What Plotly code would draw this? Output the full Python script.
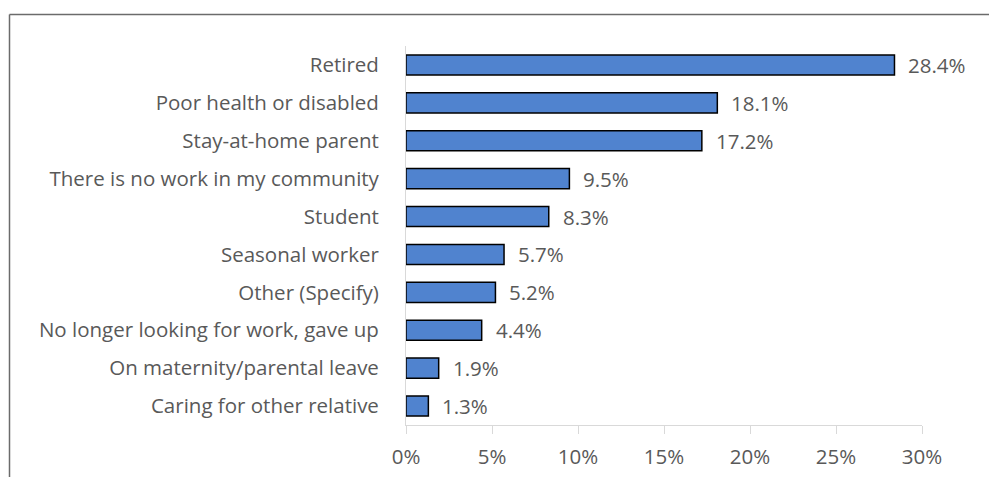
import plotly.graph_objects as go

categories = [
    "Retired",
    "Poor health or disabled",
    "Stay-at-home parent",
    "There is no work in my community",
    "Student",
    "Seasonal worker",
    "Other (Specify)",
    "No longer looking for work, gave up",
    "On maternity/parental leave",
    "Caring for other relative",
]
values = [28.4, 18.1, 17.2, 9.5, 8.3, 5.7, 5.2, 4.4, 1.9, 1.3]
x_ticks = [0, 5, 10, 15, 20, 25, 30]
x_tick_labels = [f"{t}%" for t in x_ticks]

W, H = 989, 477
ML, MR, MT, MB = 406, 67, 46, 52
font_family = "'Open Sans', sans-serif"
font_size = 20.5
text_color = "#595959"

fig = go.Figure(
    go.Bar(
        x=values,
        y=categories,
        orientation="h",
        width=0.53,
        marker=dict(color="#5083CF", line=dict(color="#000000", width=1.5)),
        hoverinfo="skip",
    )
)

# value labels to the right of each bar
for cat, v in zip(categories, values):
    fig.add_annotation(
        x=v, y=cat, xref="x", yref="y",
        text=f"{v:.1f}%", showarrow=False,
        xanchor="left", xshift=12,
        font=dict(family=font_family, size=font_size, color=text_color),
    )

# outer frame (left and top edges)
pw = W - ML - MR
ph = H - MT - MB
fx = (9.5 - ML) / pw
fy = 1 + (MT - 14.5) / ph
fig.add_shape(type="line", xref="paper", yref="paper",
              x0=fx, x1=fx, y0=fy, y1=-1, line=dict(color="#6b6b6b", width=1.5))
fig.add_shape(type="line", xref="paper", yref="paper",
              x0=fx, x1=2, y0=fy, y1=fy, line=dict(color="#6b6b6b", width=1.5))

fig.update_layout(
    width=W, height=H,
    margin=dict(l=ML, r=MR, t=MT, b=MB, autoexpand=False),
    paper_bgcolor="white", plot_bgcolor="white",
    showlegend=False,
    font=dict(family=font_family, size=font_size, color=text_color),
    xaxis=dict(
        range=[0, 30], tickvals=x_ticks, ticktext=x_tick_labels,
        showgrid=False, zeroline=False, automargin=False,
        showline=True, linecolor="#d9d9d9", linewidth=1,
        ticks="outside", ticklen=8, tickcolor="#d9d9d9",
        ticklabelstandoff=5,
        tickfont=dict(family=font_family, size=font_size, color=text_color),
        fixedrange=True,
    ),
    yaxis=dict(
        categoryorder="array", categoryarray=categories[::-1],
        showgrid=False, zeroline=False, automargin=False,
        showline=True, linecolor="#d9d9d9", linewidth=1,
        ticks="", ticklabelstandoff=22,
        tickfont=dict(family=font_family, size=font_size, color=text_color),
        fixedrange=True,
    ),
)

fig.write_html("out.html")
